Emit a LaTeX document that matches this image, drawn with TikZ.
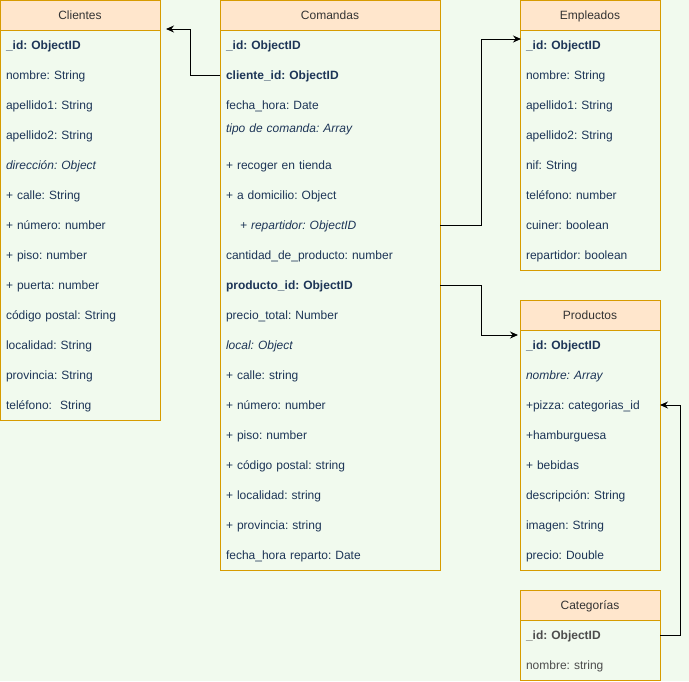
\documentclass[tikz,border=0pt]{standalone}
\usepackage{fontspec}
\setmainfont{Liberation Sans}
\usepackage{xcolor}
\usepackage{tikz}
\usetikzlibrary{positioning,arrows.meta}
\definecolor{fondo}{HTML}{F1FAEE}
\definecolor{cabfill}{HTML}{FFE6CC}
\definecolor{borde}{HTML}{D79B00}
\definecolor{letra}{HTML}{1D3557}
\definecolor{gris}{HTML}{4D4D4D}
\frenchspacing
\tikzset{tabla/.style={rectangle,fill=cabfill,draw=borde,line width=1pt,minimum height=30pt,inner sep=0pt,outer sep=0pt,text height=10pt,text depth=1.5pt,text=black!80},
  campo/.style={rectangle,minimum height=30pt,inner ysep=0pt,inner xsep=6pt,outer sep=0pt,text height=10pt,text depth=1.5pt,align=left,text=letra},
  cuerpo/.style={draw=borde,line width=1pt},
  flecha/.style={draw,line width=1pt,-{Stealth[length=8pt,width=7pt]}},}

\begin{document}
\begin{tikzpicture}[x=1pt,y=1pt,font=\fontsize{12}{14}\selectfont]
    \fill[fondo] (0,0) rectangle (689,-681);
    \useasboundingbox (0,0) rectangle (689,-681);

    % Clientes
    \begin{scope}[campo/.append style={text width=148pt}]
    \node[tabla,minimum width=160pt] (cliT) at (80,-15) {Clientes};
    \node[campo] (cli1) [below = 0pt of cliT] {\textbf{\_id: ObjectID}};
    \node[campo] (cli2) [below = 0pt of cli1] {nombre: String};
    \node[campo] (cli3) [below = 0pt of cli2] {apellido1: String};
    \node[campo] (cli4) [below = 0pt of cli3] {apellido2: String};
    \node[campo] (cli5) [below = 0pt of cli4] {\textit{dirección: Object}};
    \node[campo] (cli6) [below = 0pt of cli5] {+ calle: String};
    \node[campo] (cli7) [below = 0pt of cli6] {+ número: number};
    \node[campo] (cli8) [below = 0pt of cli7] {+ piso: number};
    \node[campo] (cli9) [below = 0pt of cli8] {+ puerta: number};
    \node[campo] (cli10) [below = 0pt of cli9] {código postal: String};
    \node[campo] (cli11) [below = 0pt of cli10] {localidad: String};
    \node[campo] (cli12) [below = 0pt of cli11] {provincia: String};
    \node[campo] (cli13) [below = 0pt of cli12] {teléfono:\ \ String};
    \draw[cuerpo] (cliT.south west) rectangle (cli13.south east);
    \end{scope}

    % Comandas
    \begin{scope}[campo/.append style={text width=208pt}]
    \node[tabla,minimum width=220pt] (comT) at (330,-15) {Comandas};
    \node[campo] (com1) [below = 0pt of comT] {\textbf{\_id: ObjectID}};
    \node[campo] (com2) [below = 0pt of com1] {\textbf{cliente\_id: ObjectID}};
    \node[campo] (com3) [below = 0pt of com2] {fecha\_hora: Date};
    \node[campo,minimum height=16pt] (com4) [below = 0pt of com3] {\textit{tipo de comanda: Array}};
    \node[campo] (com5) [below = 14pt of com4] {+ recoger en tienda};
    \node[campo] (com6) [below = 0pt of com5] {+ a domicilio: Object};
    \node[campo] (com7) [below = 0pt of com6] {\hspace*{14pt}\textit{+ repartidor: ObjectID}};
    \node[campo] (com8) [below = 0pt of com7] {cantidad\_de\_producto: number};
    \node[campo] (com9) [below = 0pt of com8] {\textbf{producto\_id: ObjectID}};
    \node[campo] (com10) [below = 0pt of com9] {precio\_total: Number};
    \node[campo] (com11) [below = 0pt of com10] {\textit{local: Object}};
    \node[campo] (com12) [below = 0pt of com11] {+ calle: string};
    \node[campo] (com13) [below = 0pt of com12] {+ número: number};
    \node[campo] (com14) [below = 0pt of com13] {+ piso: number};
    \node[campo] (com15) [below = 0pt of com14] {+ código postal: string};
    \node[campo] (com16) [below = 0pt of com15] {+ localidad: string};
    \node[campo] (com17) [below = 0pt of com16] {+ provincia: string};
    \node[campo] (com18) [below = 0pt of com17] {fecha\_hora reparto: Date};
    \draw[cuerpo] (comT.south west) rectangle (com18.south east);
    \end{scope}

    % Empleados
    \begin{scope}[campo/.append style={text width=128pt}]
    \node[tabla,minimum width=140pt] (empT) at (590,-15) {Empleados};
    \node[campo] (emp1) [below = 0pt of empT] {\textbf{\_id: ObjectID}};
    \node[campo] (emp2) [below = 0pt of emp1] {nombre: String};
    \node[campo] (emp3) [below = 0pt of emp2] {apellido1: String};
    \node[campo] (emp4) [below = 0pt of emp3] {apellido2: String};
    \node[campo] (emp5) [below = 0pt of emp4] {nif: String};
    \node[campo] (emp6) [below = 0pt of emp5] {teléfono: number};
    \node[campo] (emp7) [below = 0pt of emp6] {cuiner: boolean};
    \node[campo] (emp8) [below = 0pt of emp7] {repartidor: boolean};
    \draw[cuerpo] (empT.south west) rectangle (emp8.south east);
    \end{scope}

    % Productos
    \begin{scope}[campo/.append style={text width=128pt}]
    \node[tabla,minimum width=140pt] (proT) at (590,-315) {Productos};
    \node[campo] (pro1) [below = 0pt of proT] {\textbf{\_id: ObjectID}};
    \node[campo] (pro2) [below = 0pt of pro1] {\textit{nombre: Array}};
    \node[campo] (pro3) [below = 0pt of pro2] {+pizza: categorias\_id};
    \node[campo] (pro4) [below = 0pt of pro3] {+hamburguesa};
    \node[campo] (pro5) [below = 0pt of pro4] {+ bebidas};
    \node[campo] (pro6) [below = 0pt of pro5] {descripción: String};
    \node[campo] (pro7) [below = 0pt of pro6] {imagen: String};
    \node[campo] (pro8) [below = 0pt of pro7] {precio: Double};
    \draw[cuerpo] (proT.south west) rectangle (pro8.south east);
    \end{scope}

    % Categorias
    \begin{scope}[campo/.append style={text width=128pt,text=gris}]
    \node[tabla,minimum width=140pt] (catT) at (590,-605) {Categorías};
    \node[campo] (cat1) [below = 0pt of catT] {\textbf{\_id: ObjectID}};
    \node[campo] (cat2) [below = 0pt of cat1] {nombre: string};
    \draw[cuerpo] (catT.south west) rectangle (cat2.south east);
    \end{scope}

    % relaciones
    \coordinate (finCli) at (166,-29);
    \coordinate (finEmp) at (521,-39);
    \coordinate (finPro) at (518,-335);
    \path[flecha] (com2.west) -- ++(-30,0) |- (finCli);
    \path[flecha] (com7.east) -- ++(41,0) |- (finEmp);
    \path[flecha] (com9.east) -- ++(41,0) |- (finPro);
    \path[flecha] (cat1.east) -- ++(20,0) |- (pro3.east);
\end{tikzpicture}
\end{document}
